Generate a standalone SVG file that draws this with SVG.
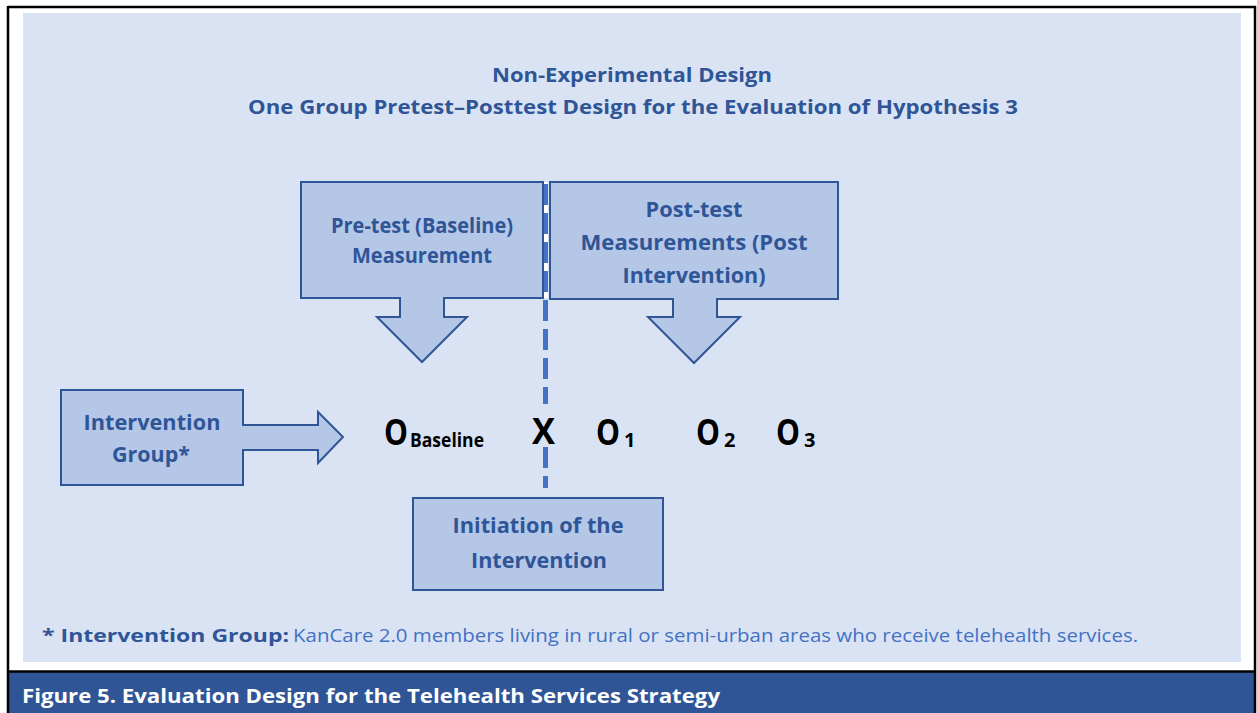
<svg xmlns="http://www.w3.org/2000/svg" width="1257" height="713" viewBox="0 0 1257 713">
<style>
  .bx { fill: #B4C7E7; stroke: #2F5597; stroke-width: 2; }
  .lbl { font-family: "Open Sans", "Noto Sans", sans-serif; font-weight: 700; fill: #2F5597; text-anchor: middle; }
  .ttl { font-family: "Open Sans", "Noto Sans", sans-serif; font-weight: 700; fill: #2F5597; text-anchor: middle; font-size: 20px; }
  .obs { font-family: "Open Sans", "Noto Sans", sans-serif; font-weight: 700; fill: #000000; }
  .dash { stroke: #4472C4; stroke-width: 5; fill: none; stroke-dasharray: 21 8; }
</style>
<rect x="0" y="0" width="1257" height="713" fill="#FFFFFF"/>
<rect x="23" y="13" width="1218" height="649" fill="#DAE3F3"/>
<rect x="8" y="672" width="1248" height="41" fill="#2F5597"/>
<g fill="none" stroke="#000000" stroke-width="2.5">
  <line x1="8" y1="7" x2="1256" y2="7"/>
  <line x1="8" y1="6" x2="8" y2="713"/>
  <line x1="1255" y1="6" x2="1255" y2="713"/>
  <line x1="8" y1="671.5" x2="1256" y2="671.5"/>
</g>

<g id="title">
  <text class="ttl" x="632" y="82" textLength="280" lengthAdjust="spacingAndGlyphs">Non-Experimental Design</text>
  <text class="ttl" x="633" y="114" textLength="770" lengthAdjust="spacingAndGlyphs">One Group Pretest–Posttest Design for the Evaluation of Hypothesis 3</text>
</g>

<g id="connectors">
  <line x1="545.5" y1="182" x2="545.5" y2="298" stroke="#FFFFFF" stroke-width="5"/>
  <line class="dash" x1="545.5" y1="184" x2="545.5" y2="404"/>
  <line class="dash" x1="545.5" y1="447" x2="545.5" y2="488" stroke-dasharray="20 8"/>
</g>

<g id="pretest">
  <path class="bx" d="M301,182 H543 V298 H444 V317 H467 L422,362 L377,317 H400 V298 H301 Z"/>
  <text class="lbl" x="422" y="233" font-size="21" textLength="182" lengthAdjust="spacingAndGlyphs">Pre-test (Baseline)</text>
  <text class="lbl" x="422" y="263" font-size="21" textLength="140" lengthAdjust="spacingAndGlyphs">Measurement</text>
</g>

<g id="posttest">
  <path class="bx" d="M550,182 H838 V299 H717 V317 H740 L694,363 L648,317 H673 V299 H550 Z"/>
  <text class="lbl" x="694" y="217" font-size="21" textLength="97" lengthAdjust="spacingAndGlyphs">Post-test</text>
  <text class="lbl" x="694" y="250" font-size="21" textLength="227" lengthAdjust="spacingAndGlyphs">Measurements (Post</text>
  <text class="lbl" x="694" y="283" font-size="21" textLength="143" lengthAdjust="spacingAndGlyphs">Intervention)</text>
</g>

<g id="intervention-group">
  <path class="bx" d="M61,390 H243 V425 H318 V412 L343,437 L318,463 V450 H243 V485 H61 Z"/>
  <text class="lbl" x="152" y="430" font-size="21" textLength="137" lengthAdjust="spacingAndGlyphs">Intervention</text>
  <text class="lbl" x="151" y="462" font-size="21" textLength="78" lengthAdjust="spacingAndGlyphs">Group*</text>
</g>

<g id="initiation">
  <rect class="bx" x="413" y="498" width="250" height="92"/>
  <text class="lbl" x="538" y="533" font-size="21" textLength="171" lengthAdjust="spacingAndGlyphs">Initiation of the</text>
  <text class="lbl" x="539" y="568" font-size="21" textLength="136" lengthAdjust="spacingAndGlyphs">Intervention</text>
</g>

<g id="observations">
  <text class="obs" x="384" y="445" font-size="35" textLength="24" lengthAdjust="spacingAndGlyphs">O</text>
  <text class="obs" x="410" y="447" font-size="19" textLength="74" lengthAdjust="spacingAndGlyphs">Baseline</text>
  <text class="obs" x="532" y="444" font-size="35" textLength="23" lengthAdjust="spacingAndGlyphs">X</text>
  <text class="obs" x="596" y="445" font-size="35" textLength="24" lengthAdjust="spacingAndGlyphs">O</text>
  <text class="obs" x="624" y="447" font-size="20">1</text>
  <text class="obs" x="696" y="445" font-size="35" textLength="24" lengthAdjust="spacingAndGlyphs">O</text>
  <text class="obs" x="724" y="447" font-size="20">2</text>
  <text class="obs" x="776" y="445" font-size="35" textLength="24" lengthAdjust="spacingAndGlyphs">O</text>
  <text class="obs" x="804" y="447" font-size="20">3</text>
</g>

<g id="footnote">
  <text x="42" y="642" font-family="Open Sans, Noto Sans, sans-serif" font-weight="700" font-size="18" fill="#2F5597" textLength="247" lengthAdjust="spacingAndGlyphs">* Intervention Group:</text>
  <text x="293" y="642" font-family="Open Sans, Noto Sans, sans-serif" font-size="18" fill="#4472C4" textLength="845" lengthAdjust="spacingAndGlyphs">KanCare 2.0 members living in rural or semi-urban areas who receive telehealth services.</text>
</g>

<g id="caption">
  <text x="22" y="703" font-family="Open Sans, Noto Sans, sans-serif" font-weight="700" font-size="20" fill="#FFFFFF" textLength="698" lengthAdjust="spacingAndGlyphs">Figure 5. Evaluation Design for the Telehealth Services Strategy</text>
</g>
</svg>
